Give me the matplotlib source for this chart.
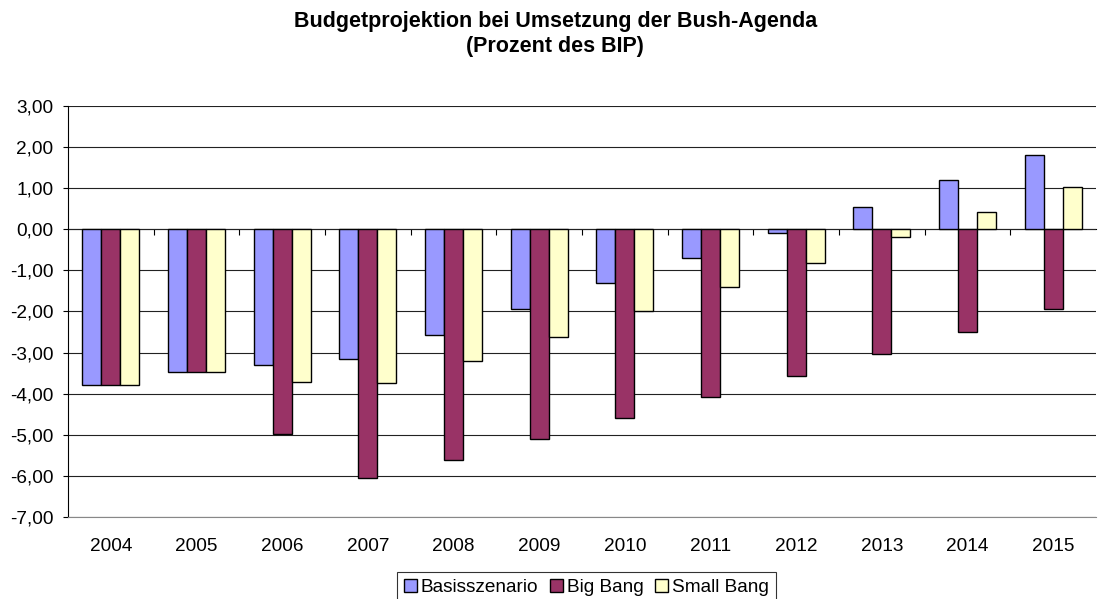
import matplotlib.pyplot as plt
import numpy as np

plt.rcParams.update({"font.family": "Liberation Sans", "font.size": 13.7})

years = ['2004', '2005', '2006', '2007', '2008', '2009', '2010', '2011', '2012', '2013', '2014', '2015']
basis = [-3.79, -3.48, -3.30, -3.15, -2.58, -1.95, -1.31, -0.71, -0.09, 0.55, 1.19, 1.81]
big_bang = [-3.79, -3.48, -4.98, -6.06, -5.61, -5.11, -4.60, -4.07, -3.57, -3.03, -2.49, -1.95]
small_bang = [-3.79, -3.48, -3.72, -3.75, -3.21, -2.61, -2.00, -1.40, -0.81, -0.19, 0.41, 1.03]

fig = plt.figure(figsize=(11.02, 5.99), dpi=100)
ax = fig.add_axes([0.0617, 0.137, 0.9328, 0.686])

x = np.arange(len(years))
w = 0.222
ax.bar(x - w, basis, w, color='#9999FF', edgecolor='black', linewidth=1.0, label='Basisszenario', zorder=3)
ax.bar(x, big_bang, w, color='#993366', edgecolor='black', linewidth=1.0, label='Big Bang', zorder=3)
ax.bar(x + w, small_bang, w, color='#FFFFCC', edgecolor='black', linewidth=1.0, label='Small Bang', zorder=3)

ax.set_xlim(-0.5, len(years) - 0.5)
ax.set_ylim(-7, 3)
ax.set_yticks(np.arange(-7, 4, 1))
ax.set_yticklabels([f'{v:.2f}'.replace('.', ',') for v in np.arange(-7, 4, 1)])
ax.yaxis.grid(True, color='#222222', linewidth=0.8, zorder=0)

ax.set_xticks(x)
ax.set_xticklabels(years)
ax.tick_params(axis='x', length=0, pad=15)
ax.tick_params(axis='y', length=3.6, width=0.8, direction='out', pad=7)

for side in ['top', 'right']:
    ax.spines[side].set_visible(False)
ax.spines['bottom'].set_color('#888888')
ax.spines['left'].set_color('black')

# category axis at zero with separator ticks
zero = ax.secondary_xaxis(0.7)
zero.set_xticks(np.arange(0.5, len(years) - 1, 1))
zero.set_xticklabels([])
zero.tick_params(length=4, width=0.8, direction='in', color='black')
zero.spines['bottom'].set_color('black')
zero.spines['bottom'].set_linewidth(1.0)

fig.text(0.504, 0.944, 'Budgetprojektion bei Umsetzung der Bush-Agenda\n(Prozent des BIP)',
         ha='center', va='center', fontsize=15.5, fontweight='bold', linespacing=1.25)

leg = fig.legend(loc='center', bbox_to_anchor=(0.532, 0.019), ncol=3, frameon=True,
                 fancybox=False, edgecolor='black', handlelength=0.7, handleheight=0.7,
                 handletextpad=0.2, columnspacing=0.6, borderpad=0.35, fontsize=13.7)
leg.get_frame().set_linewidth(0.8)

fig.savefig('out.png', dpi=100)
